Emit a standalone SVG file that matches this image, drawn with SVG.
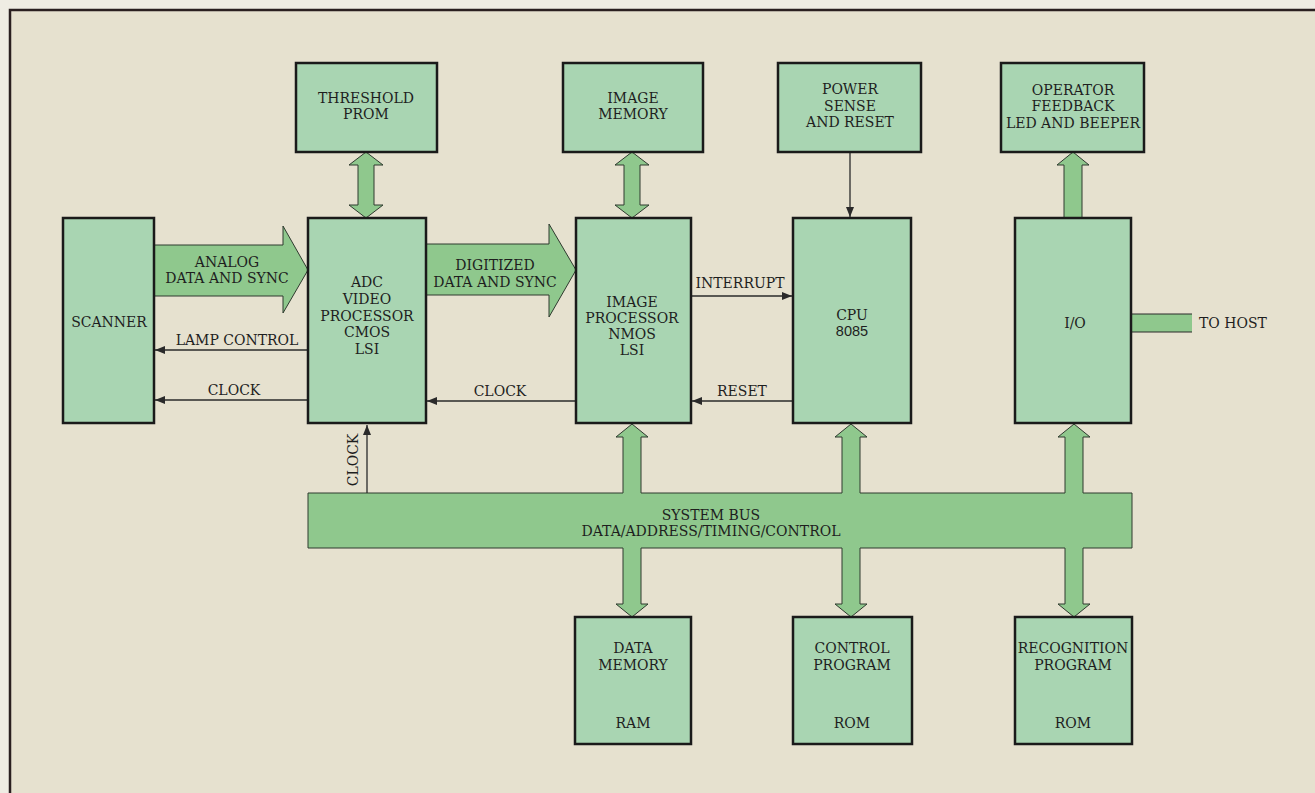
<svg xmlns="http://www.w3.org/2000/svg" width="1315" height="793" viewBox="0 0 1315 793">
<defs>
<marker id="ah" viewBox="0 0 10 8" refX="10" refY="4" markerWidth="10" markerHeight="8" markerUnits="userSpaceOnUse" orient="auto">
<path d="M0,0 L10,4 L0,8 Z" fill="#2a2a2a"/>
</marker>
<style>
.box{fill:#a9d5b2;stroke:#1a1a1a;stroke-width:2.5}
.fat{fill:#8fc88d;stroke:#2f3a2f;stroke-width:1}
.wire{fill:none;stroke:#2a2a2a;stroke-width:1.3;marker-end:url(#ah)}
text{font-family:"DejaVu Serif","Liberation Serif",serif;font-size:14px;fill:#1e1e1e;text-anchor:middle}
</style>
</defs>
<rect x="0" y="0" width="1315" height="793" fill="#efece3"/>
<rect x="10" y="10" width="1310" height="790" fill="#e6e1cf"/>
<path d="M10,793 L10,10 L1315,10" fill="none" stroke="#2a1f20" stroke-width="2.5"/>

<g id="connectors">
<path class="fat" d="M154,245 L283,245 L283,226 L308,270 L283,313 L283,296 L154,296 Z"/>
<path class="fat" d="M426,244 L549,244 L549,224 L576,270 L549,317 L549,295 L426,295 Z"/>
<path class="fat" d="M366,152 L383,165 L374,165 L374,205 L383,205 L366,218 L349,205 L358,205 L358,165 L349,165 Z"/>
<path class="fat" d="M632,152 L649,165 L640,165 L640,205 L649,205 L632,218 L615,205 L624,205 L624,165 L615,165 Z"/>
<path class="fat" d="M1064,218 L1064,165 L1057,165 L1073,152 L1089,165 L1082,165 L1082,218 Z"/>
<path class="fat" d="M308,493 L623,493 L623,437 L616,437 L632,424 L648,437 L641,437 L641,493 L842,493 L842,437 L835,437 L851,424 L867,437 L860,437 L860,493 L1065,493 L1065,437 L1058,437 L1074,424 L1090,437 L1083,437 L1083,493 L1132,493 L1132,548 L1083,548 L1083,604 L1090,604 L1074,617 L1058,604 L1065,604 L1065,548 L860,548 L860,604 L867,604 L851,617 L835,604 L842,604 L842,548 L641,548 L641,604 L648,604 L632,617 L616,604 L623,604 L623,548 L308,548 Z"/>
<rect x="1131" y="314" width="61" height="18" fill="#8fc88d"/>
<path d="M1131,314 L1192,314 M1131,332 L1192,332" stroke="#2a2a2a" stroke-width="1.2"/>
<line class="wire" x1="308" y1="350" x2="155" y2="350"/>
<line class="wire" x1="308" y1="400" x2="155" y2="400"/>
<line class="wire" x1="576" y1="401" x2="427" y2="401"/>
<line class="wire" x1="793" y1="401" x2="692" y2="401"/>
<line class="wire" x1="691" y1="296" x2="792" y2="296"/>
<line class="wire" x1="850" y1="152" x2="850" y2="217"/>
<line class="wire" x1="367" y1="493" x2="367" y2="425"/>
<text x="227" y="267">ANALOG</text>
<text x="227" y="283">DATA AND SYNC</text>
<text x="495" y="270">DIGITIZED</text>
<text x="495" y="287">DATA AND SYNC</text>
<text x="237" y="345">LAMP CONTROL</text>
<text x="234" y="395">CLOCK</text>
<text x="500" y="396">CLOCK</text>
<text x="742" y="396">RESET</text>
<text x="740" y="288">INTERRUPT</text>
<text x="1199" y="328" style="text-anchor:start">TO HOST</text>
<text transform="translate(358,460) rotate(-90)">CLOCK</text>
<text x="711" y="520">SYSTEM BUS</text>
<text x="711" y="536">DATA/ADDRESS/TIMING/CONTROL</text>
</g>

<g id="threshold"><rect class="box" x="296" y="63" width="141" height="89"/><text x="366" y="103">THRESHOLD</text><text x="366" y="119">PROM</text></g>
<g id="imagememory"><rect class="box" x="563" y="63" width="140" height="89"/><text x="633" y="103">IMAGE</text><text x="633" y="119">MEMORY</text></g>
<g id="powersense"><rect class="box" x="778" y="63" width="143" height="89"/><text x="850" y="94">POWER</text><text x="850" y="111">SENSE</text><text x="850" y="127">AND RESET</text></g>
<g id="operator"><rect class="box" x="1001" y="63" width="143" height="89"/><text x="1073" y="95">OPERATOR</text><text x="1073" y="111">FEEDBACK</text><text x="1073" y="128">LED AND BEEPER</text></g>
<g id="scanner"><rect class="box" x="63" y="218" width="91" height="205"/><text x="109" y="327">SCANNER</text></g>
<g id="adc"><rect class="box" x="308" y="218" width="118" height="205"/><text x="367" y="287">ADC</text><text x="367" y="304">VIDEO</text><text x="367" y="321">PROCESSOR</text><text x="367" y="337">CMOS</text><text x="367" y="354">LSI</text></g>
<g id="imageprocessor"><rect class="box" x="576" y="218" width="115" height="205"/><text x="632" y="307">IMAGE</text><text x="632" y="323">PROCESSOR</text><text x="632" y="339">NMOS</text><text x="632" y="355">LSI</text></g>
<g id="cpu"><rect class="box" x="793" y="218" width="118" height="205"/><text x="852" y="320">CPU</text><text x="852" y="336" style="font-family:'Liberation Sans',sans-serif;font-size:14.5px">8085</text></g>
<g id="io"><rect class="box" x="1015" y="218" width="116" height="205"/><text x="1075" y="328">I/O</text></g>
<g id="datamemory"><rect class="box" x="575" y="617" width="116" height="127"/><text x="633" y="653">DATA</text><text x="633" y="670">MEMORY</text><text x="633" y="728">RAM</text></g>
<g id="controlprogram"><rect class="box" x="793" y="617" width="119" height="127"/><text x="852" y="653">CONTROL</text><text x="852" y="670">PROGRAM</text><text x="852" y="728">ROM</text></g>
<g id="recognition"><rect class="box" x="1015" y="617" width="117" height="127"/><text x="1073" y="653">RECOGNITION</text><text x="1073" y="670">PROGRAM</text><text x="1073" y="728">ROM</text></g>
</svg>
